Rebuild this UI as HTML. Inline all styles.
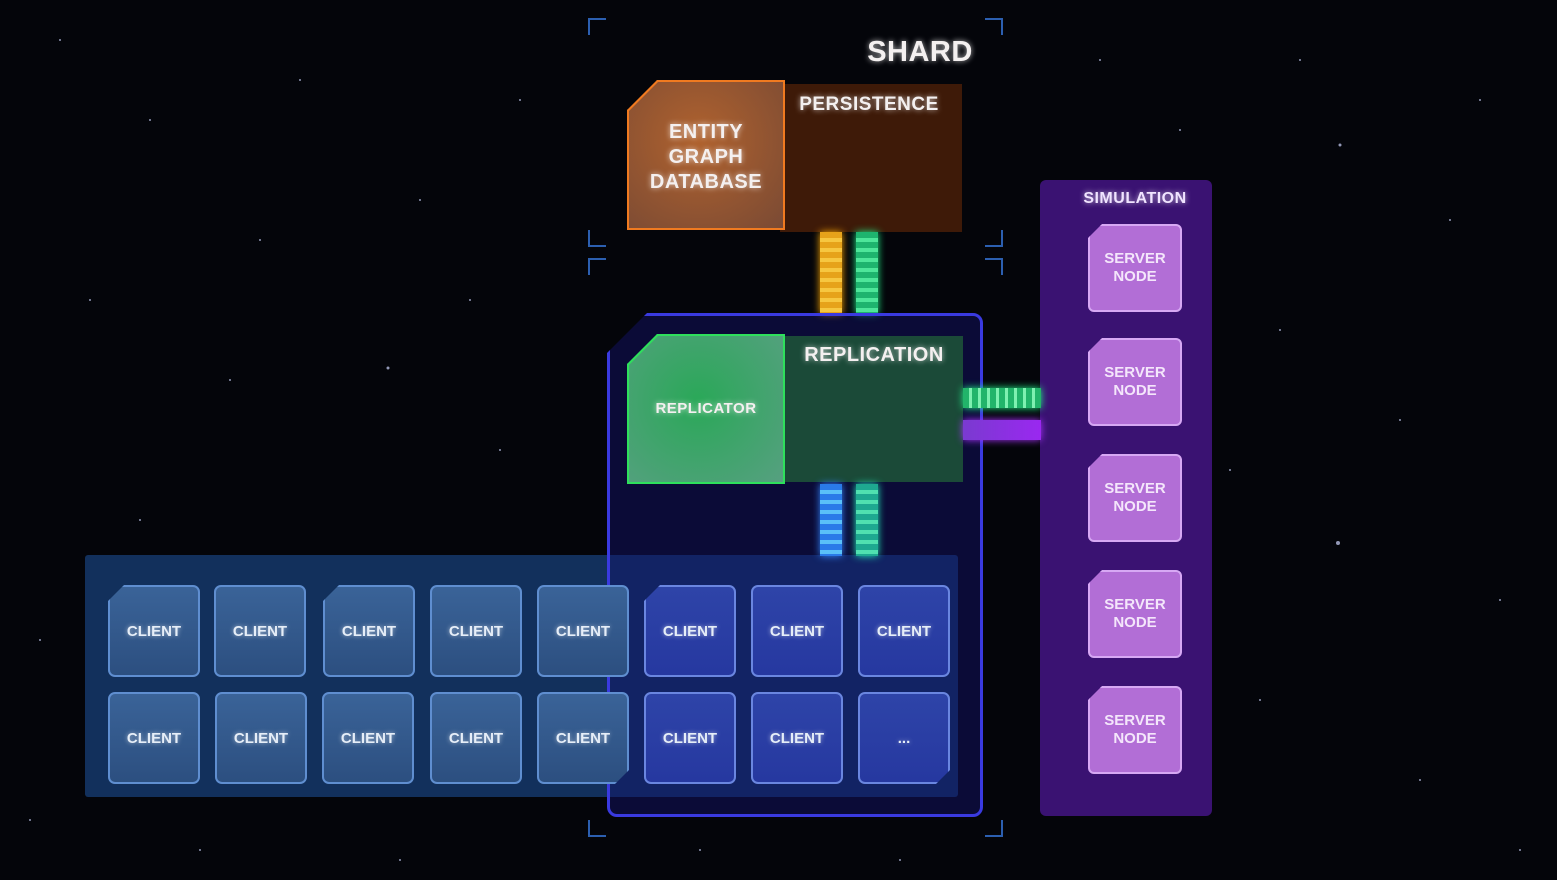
<!DOCTYPE html>
<html><head><meta charset="utf-8"><style>
*{margin:0;padding:0;box-sizing:border-box}
body{width:1557px;height:880px;background:#04050a;position:relative;overflow:hidden;font-family:"Liberation Sans",sans-serif;font-weight:bold;color:#f4f0f0}
.a{position:absolute}
.t{position:absolute;text-align:center;text-shadow:0 0 6px rgba(255,255,255,.7);letter-spacing:.5px}
.cl{position:absolute;width:92px;height:92px;border:2px solid #5f8ed0;border-radius:7px;background:linear-gradient(#3a6398,#2c4f80);font-size:15px;display:flex;align-items:center;justify-content:center;color:#e6eef8;text-shadow:0 0 5px rgba(255,255,255,.6)}
.cl.b{background:linear-gradient(#2e44a8,#2638a0);border-color:#6a86e0}
.sn{position:absolute;left:1088px;width:94px;height:88px;border:2px solid #d7a8f4;border-radius:6px;background:#b26ed6;font-size:15px;display:flex;align-items:center;justify-content:center;text-align:center;line-height:18px;color:#f4e6fb;clip-path:polygon(14px 0,100% 0,100% 100%,0 100%,0 14px)}
.br{position:absolute;width:18px;height:17px;border-color:#2c5fb0;border-style:solid;border-width:0}
</style></head><body>
<svg class="a" style="left:0;top:0" width="1557" height="880">
<g fill="#cfd6ff" opacity=".7">
<circle cx="60" cy="40" r="1"/><circle cx="150" cy="120" r="1"/><circle cx="300" cy="80" r="1"/><circle cx="420" cy="200" r="1"/><circle cx="90" cy="300" r="1"/><circle cx="230" cy="380" r="1"/><circle cx="388" cy="368" r="1.5"/><circle cx="500" cy="450" r="1"/><circle cx="140" cy="520" r="1"/><circle cx="40" cy="640" r="1"/><circle cx="30" cy="820" r="1"/><circle cx="200" cy="850" r="1"/><circle cx="400" cy="860" r="1"/><circle cx="520" cy="100" r="1"/><circle cx="1300" cy="60" r="1"/><circle cx="1340" cy="145" r="1.5"/><circle cx="1450" cy="220" r="1"/><circle cx="1280" cy="330" r="1"/><circle cx="1400" cy="420" r="1"/><circle cx="1338" cy="543" r="2"/><circle cx="1500" cy="600" r="1"/><circle cx="1260" cy="700" r="1"/><circle cx="1420" cy="780" r="1"/><circle cx="1520" cy="850" r="1"/><circle cx="1100" cy="60" r="1"/><circle cx="1180" cy="130" r="1"/><circle cx="700" cy="850" r="1"/><circle cx="900" cy="860" r="1"/><circle cx="260" cy="240" r="1"/><circle cx="470" cy="300" r="1"/><circle cx="1480" cy="100" r="1"/><circle cx="1230" cy="470" r="1"/>
</g></svg>
<!-- brackets -->
<div class="br" style="left:588px;top:18px;border-left-width:2px;border-top-width:2px"></div>
<div class="br" style="left:985px;top:18px;border-right-width:2px;border-top-width:2px"></div>
<div class="br" style="left:588px;top:230px;border-left-width:2px;border-bottom-width:2px"></div>
<div class="br" style="left:985px;top:230px;border-right-width:2px;border-bottom-width:2px"></div>
<div class="br" style="left:588px;top:258px;border-left-width:2px;border-top-width:2px"></div>
<div class="br" style="left:985px;top:258px;border-right-width:2px;border-top-width:2px"></div>
<div class="br" style="left:588px;top:820px;border-left-width:2px;border-bottom-width:2px"></div>
<div class="br" style="left:985px;top:820px;border-right-width:2px;border-bottom-width:2px"></div>
<div class="t" style="left:850px;top:36px;width:140px;font-size:29px">SHARD</div>
<!-- persistence -->
<div class="a" style="left:780px;top:84px;width:182px;height:148px;background:#3e1a08"></div>
<div class="t" style="left:786px;top:94px;width:166px;font-size:19px">PERSISTENCE</div>
<div class="a" style="left:627px;top:80px;width:158px;height:150px;background:#f07a20;clip-path:polygon(30px 0,100% 0,100% 100%,0 100%,0 30px);box-shadow:0 0 10px #f80"></div>
<div class="a" style="left:629px;top:82px;width:154px;height:146px;background:radial-gradient(circle at 45% 40%,#b0622e,#7a4a34);clip-path:polygon(29px 0,100% 0,100% 100%,0 100%,0 29px)"></div>
<div class="t" style="left:627px;top:120px;width:158px;font-size:20px;line-height:25px">ENTITY<br>GRAPH<br>DATABASE</div>
<!-- connectors top -->
<div class="a" style="left:820px;top:232px;width:22px;height:82px;background:repeating-linear-gradient(#e6a21a 0 6px,#f6c640 6px 10px);box-shadow:0 0 8px #fa0"></div>
<div class="a" style="left:856px;top:232px;width:22px;height:82px;background:repeating-linear-gradient(#1eb46e 0 6px,#4ee69a 6px 10px);box-shadow:0 0 8px #2e8"></div>
<!-- simulation -->
<div class="a" style="left:1040px;top:180px;width:172px;height:636px;background:#3a1272;border-radius:6px"></div>
<div class="t" style="left:1040px;top:190px;width:190px;font-size:16px;color:#f0e4ff">SIMULATION</div>
<div class="sn" style="top:224px">SERVER<br>NODE</div>
<div class="sn" style="top:338px">SERVER<br>NODE</div>
<div class="sn" style="top:454px">SERVER<br>NODE</div>
<div class="sn" style="top:570px">SERVER<br>NODE</div>
<div class="sn" style="top:686px">SERVER<br>NODE</div>
<!-- clients panel -->
<div class="a" style="left:85px;top:555px;width:873px;height:242px;background:#12305c;border-radius:3px"></div>
<!-- replication outer -->
<div class="a" style="left:607px;top:313px;width:376px;height:504px;border:3px solid #3a3ae0;border-radius:10px;background:rgba(20,20,110,.45);clip-path:polygon(40px 0,100% 0,100% 100%,0 100%,0 40px)"></div>
<div class="a" style="left:780px;top:336px;width:183px;height:146px;background:#1b4a38"></div>
<div class="t" style="left:788px;top:344px;width:172px;font-size:20px">REPLICATION</div>
<div class="a" style="left:627px;top:334px;width:158px;height:150px;background:#2ee05c;clip-path:polygon(30px 0,100% 0,100% 100%,0 100%,0 30px);box-shadow:0 0 10px #2e6"></div>
<div class="a" style="left:629px;top:336px;width:154px;height:146px;background:radial-gradient(circle at 45% 45%,#2aa858,#56a080);clip-path:polygon(29px 0,100% 0,100% 100%,0 100%,0 29px)"></div>
<div class="t" style="left:627px;top:400px;width:158px;font-size:15px">REPLICATOR</div>
<!-- horizontal connectors -->
<div class="a" style="left:963px;top:388px;width:78px;height:20px;background:repeating-linear-gradient(90deg,#22b46a 0 6px,#7ef0b0 6px 9px);box-shadow:0 0 8px #2e8"></div>
<div class="a" style="left:963px;top:420px;width:78px;height:20px;background:linear-gradient(90deg,#7a3ad0,#9a28f0);box-shadow:0 0 8px #a3f"></div>
<!-- bottom connectors -->
<div class="a" style="left:820px;top:484px;width:22px;height:72px;background:repeating-linear-gradient(#2a7ae8 0 6px,#5ac0f8 6px 10px);box-shadow:0 0 8px #38f"></div>
<div class="a" style="left:856px;top:484px;width:22px;height:72px;background:repeating-linear-gradient(#1ea890 0 6px,#50e0b0 6px 10px);box-shadow:0 0 8px #2eb"></div>
<!-- clients -->
<div class="cl" style="left:108px;top:585px;clip-path:polygon(16px 0,100% 0,100% 100%,0 100%,0 16px)">CLIENT</div>
<div class="cl" style="left:214px;top:585px">CLIENT</div>
<div class="cl" style="left:323px;top:585px;clip-path:polygon(16px 0,100% 0,100% 100%,0 100%,0 16px)">CLIENT</div>
<div class="cl" style="left:430px;top:585px">CLIENT</div>
<div class="cl" style="left:537px;top:585px">CLIENT</div>
<div class="cl b" style="left:644px;top:585px;clip-path:polygon(16px 0,100% 0,100% 100%,0 100%,0 16px)">CLIENT</div>
<div class="cl b" style="left:751px;top:585px">CLIENT</div>
<div class="cl b" style="left:858px;top:585px">CLIENT</div>
<div class="cl" style="left:108px;top:692px">CLIENT</div>
<div class="cl" style="left:215px;top:692px">CLIENT</div>
<div class="cl" style="left:322px;top:692px">CLIENT</div>
<div class="cl" style="left:430px;top:692px">CLIENT</div>
<div class="cl" style="left:537px;top:692px;clip-path:polygon(0 0,100% 0,100% 78px,78px 100%,0 100%)">CLIENT</div>
<div class="cl b" style="left:644px;top:692px">CLIENT</div>
<div class="cl b" style="left:751px;top:692px">CLIENT</div>
<div class="cl b" style="left:858px;top:692px;clip-path:polygon(0 0,100% 0,100% 78px,78px 100%,0 100%)">...</div>
</body></html>
